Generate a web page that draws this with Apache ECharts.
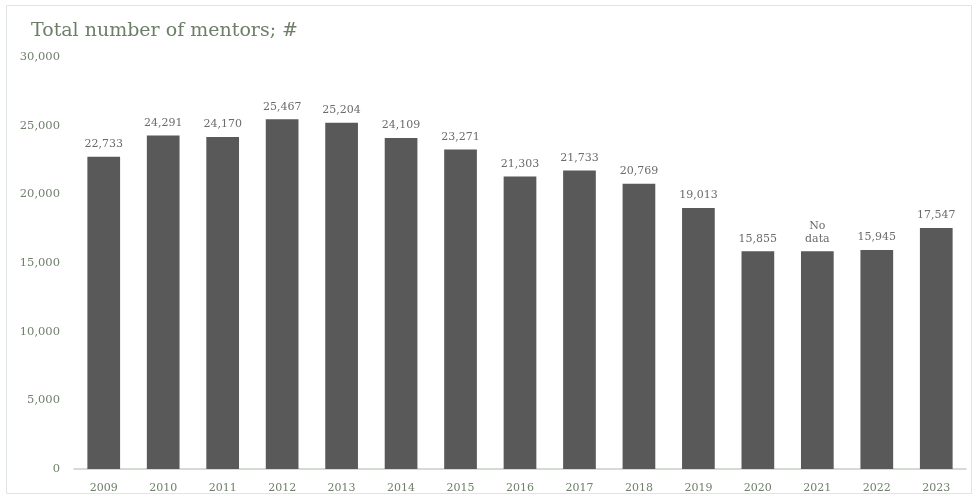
<!DOCTYPE html>
<html><head><meta charset="utf-8">
<script src="https://cdn.jsdelivr.net/npm/echarts@6/dist/echarts.min.js"></script>
<style>html,body{margin:0;padding:0;background:#fff}#c{width:977px;height:503px}</style>
</head><body><div id="c"></div>
<script>
const years = ['2009','2010','2011','2012','2013','2014','2015','2016','2017','2018','2019','2020','2021','2022','2023'];
const mentors = [22733,24291,24170,25467,25204,24109,23271,21303,21733,20769,19013,15855,15855,15945,17547];
const labelTexts = ['22,733','24,291','24,170','25,467','25,204','24,109','23,271','21,303','21,733','20,769','19,013','15,855','No\ndata','15,945','17,547'];
const yTicks = [0,5000,10000,15000,20000,25000,30000];

const chart = echarts.init(document.getElementById('c'));
chart.setOption({
  animation:false,
  title:{text:'Total number of mentors; #',left:26,top:17,textStyle:{fontFamily:'DejaVu Serif',fontSize:19,fontWeight:'normal',color:'#6d7e69'}},
  graphic:[{type:'rect',shape:{x:6.5,y:5.5,width:965,height:488},style:{fill:'none',stroke:'#dfe5df',lineWidth:1},silent:true,z:-1}],
  grid:{left:74,right:11,top:57,bottom:34},
  xAxis:{type:'category',data:years,axisTick:{show:false},
    axisLine:{lineStyle:{color:'#c5d0c5',width:1.5}},
    axisLabel:{color:'#6f7f6b',fontFamily:'DejaVu Serif',fontSize:11,margin:14}},
  yAxis:{type:'value',min:yTicks[0],max:yTicks[yTicks.length-1],interval:5000,
    splitLine:{show:false},axisLine:{show:false},axisTick:{show:false},
    axisLabel:{color:'#6f7f6b',fontFamily:'DejaVu Serif',fontSize:11.5,margin:14,
      formatter:v=>v.toLocaleString('en-US')}},
  series:[{type:'bar',data:mentors,barCategoryGap:'45%',
    itemStyle:{color:'#595959'},
    label:{show:true,position:'top',distance:6,color:'#6b6b6b',fontFamily:'DejaVu Serif',fontSize:11,lineHeight:13,
      formatter:p=>labelTexts[p.dataIndex]}}]
});
</script></body></html>
